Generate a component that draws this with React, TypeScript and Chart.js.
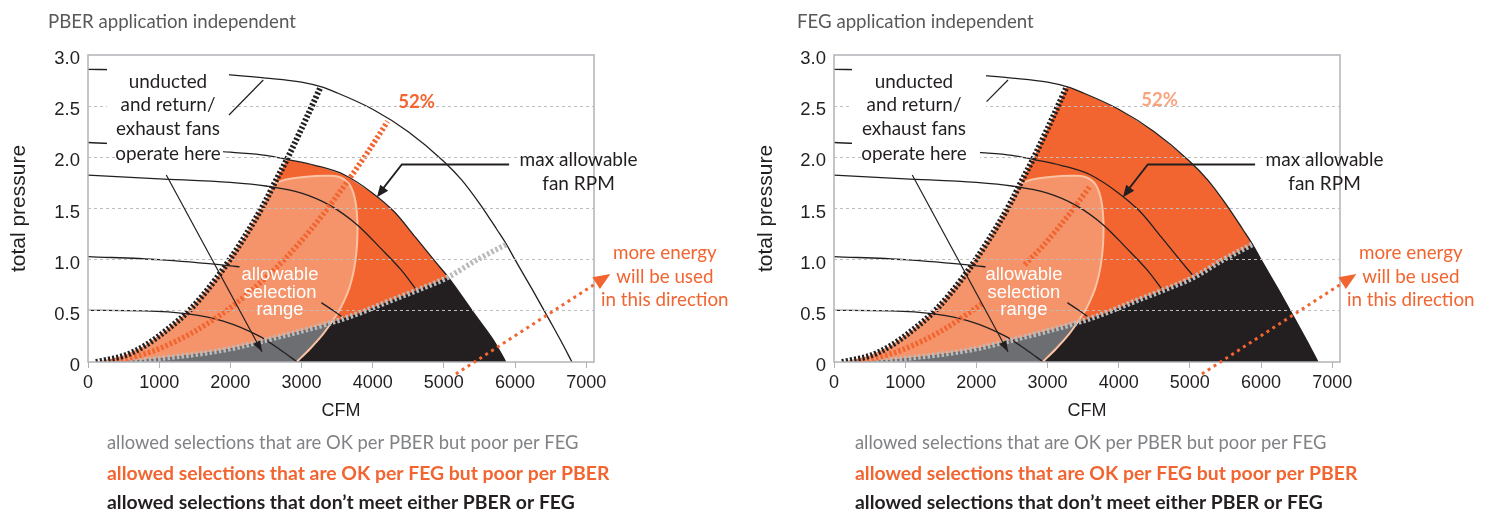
import React, { useEffect, useRef } from "react";
import { Chart, registerables } from "chart.js";

Chart.register(...registerables);

// ---------------- data ----------------
const X_TICKS = [0, 1000, 2000, 3000, 4000, 5000, 6000, 7000];
const Y_TICKS = [0, 0.5, 1, 1.5, 2, 2.5, 3];

// fan curves (CFM vs total pressure)
const FAN_A_CFM = [0, 500, 1000, 1500, 2000, 2500, 3000, 3270, 3500, 4000, 4500, 5000, 5250, 5500, 5750, 5880, 6000, 6250, 6500, 6650, 6800];
const FAN_A_P = [2.86, 2.855, 2.845, 2.83, 2.805, 2.775, 2.735, 2.69, 2.63, 2.47, 2.25, 1.96, 1.78, 1.55, 1.29, 1.15, 1.0, 0.7, 0.39, 0.2, 0];
const FAN_B_CFM = [0, 1000, 2000, 2500, 2795, 3200, 3600, 4000, 4300, 4600, 4880, 5060, 5450, 5700, 5870];
const FAN_B_P = [2.145, 2.11, 2.05, 2.02, 1.98, 1.92, 1.83, 1.65, 1.47, 1.22, 0.98, 0.83, 0.45, 0.21, 0];
const FAN_C_CFM = [0, 1000, 2000, 2500, 3000, 3400, 3800, 4100, 4400, 4620];
const FAN_C_P = [1.826, 1.79, 1.755, 1.72, 1.65, 1.53, 1.33, 1.12, 0.9, 0.7];
const FAN_D_CFM = [0, 1000, 2000, 2130, 2700, 3280, 3450, 3610];
const FAN_D_P: (number | null)[] = [1.03, 1.0, 0.94, 0.93, null, 0.58, 0.5, 0.42];
const FAN_E_CFM = [0, 800, 1400, 1900, 2400, 2700, 2940];
const FAN_E_P = [0.505, 0.5, 0.47, 0.4, 0.255, 0.12, 0];

// boundary lines
const SURGE_CFM = [110, 262, 500, 800, 1100, 1431, 1806, 2180, 2500, 2615, 2795, 3000, 3270];
const SURGE_P = [0, 0.02, 0.06, 0.16, 0.31, 0.51, 0.82, 1.2, 1.58, 1.74, 1.98, 2.28, 2.69];
const PBER_CFM = [260, 700, 1000, 1400, 1760, 2100, 2420, 2930, 3420, 3820, 4250, 4620, 5060, 5470, 5880];
const PBER_P = [0, 0.015, 0.035, 0.065, 0.1, 0.145, 0.2, 0.29, 0.385, 0.48, 0.6, 0.7, 0.83, 1.0, 1.15];
const PEAK_CFM = [330, 700, 1000, 1500, 2000, 2300, 2600, 2930, 3300, 3630, 3930, 4210];
const PEAK_P = [0, 0.06, 0.13, 0.3, 0.53, 0.7, 0.89, 1.13, 1.44, 1.75, 2.05, 2.35];
const PEAK_FEG_CFM = [330, 700, 1000, 1500, 2000, 2100, 2400, 2680, 2930, 3300, 3590];
const PEAK_FEG_P: (number | null)[] = [0, 0.06, 0.13, 0.3, 0.53, 0.58, null, 0.95, 1.13, 1.44, 1.71];
// allowable selection range outline
const SEL_CFM = [2615, 2700, 2800, 3000, 3200, 3400, 3520, 3610, 3680, 3730, 3765, 3782, 3787, 3780, 3760, 3725, 3670, 3600, 3520, 3420, 3300, 3120, 2930];
const SEL_P = [1.74, 1.765, 1.785, 1.805, 1.818, 1.82, 1.81, 1.78, 1.73, 1.65, 1.54, 1.42, 1.3, 1.15, 1.0, 0.86, 0.72, 0.6, 0.49, 0.385, 0.27, 0.13, 0];

// texts
const NOTE_TEXT = ["unducted", "and return/", "exhaust fans", "operate here"];
const RPM_TEXT = ["max allowable", "fan RPM"];
const ENERGY_TEXT = ["more energy", "will be used", "in this direction"];
const SEL_TEXT = ["allowable", "selection", "range"];
const PEAK_TEXT = "52%";
const LEGEND_TEXT = [
  "allowed selections that are OK per PBER but poor per FEG",
  "allowed selections that are OK per FEG but poor per PBER",
  "allowed selections that don\u2019t meet either PBER or FEG",
];

// ---------------- styles ----------------
const ANNOT_FAMILY = 'Lato, "Open Sans", sans-serif';
const AXIS_FAMILY = '"Liberation Sans", Arial, Helvetica, sans-serif';
const INK = "#231F20";
const ORANGE = "#F26531";
const LIGHT_ORANGE = "#F5946A";
const SEL_EDGE = "#FBC2A3";
const GRAY_FILL = "#6D6E71";
const PBER_GRAY = "#B9BBBD";
const GRID_GRAY = "#BCBEC0";
const FRAME_GRAY = "#B1B3B6";
const LEGEND_GRAY = "#808285";
const TITLE_GRAY = "#58595B";

type Pt = { x: number; y: number | null };
const series = (cfm: number[], p: (number | null)[]): Pt[] => cfm.map((x, i) => ({ x, y: p[i] }));
const piece = (cfm: number[], p: (number | null)[], from: number, to: number): Pt[] => {
  const i = cfm.indexOf(from);
  const j = cfm.indexOf(to);
  const step = i <= j ? 1 : -1;
  const out: Pt[] = [];
  for (let k = i; k !== j + step; k += step) out.push({ x: cfm[k], y: p[k] });
  return out;
};

type Panel = {
  key: string;
  left: number;
  title: string;
  titleX: number;
  axisWidth: number;
  legendX: number;
  feg: boolean;
  box: number[];
  leader: number[];
  selX: number;
  peakPos: number[];
  peakColor: string;
};

const PANELS: Panel[] = [
  {
    key: "pber", left: 0, title: "PBER application independent", titleX: 48, axisWidth: 88, legendX: 107, feg: false,
    box: [267, 1981, 2.06, 2.94], leader: [1981, 2.414, 2463, 2.756], selX: 2698,
    peakPos: [4618, 2.544], peakColor: ORANGE,
  },
  {
    key: "feg", left: 747, title: "FEG application independent", titleX: 50, axisWidth: 87, legendX: 108, feg: true,
    box: [253, 2136, 2.06, 2.94], leader: [2144, 2.544, 2445, 2.756], selX: 2669,
    peakPos: [4575, 2.56], peakColor: "#F9A47E",
  },
];

const fillDs = (label: string, data: Pt[], color: string, order: number) => ({
  label, data, fill: "shape", backgroundColor: color, borderColor: "rgba(0,0,0,0)", borderWidth: 0,
  pointRadius: 0, tension: 0, order,
});
const lineDs = (label: string, data: Pt[], color: string, width: number, dash: number[], order: number) => ({
  label, data, fill: false, borderColor: color, backgroundColor: color, borderWidth: width, borderDash: dash,
  borderCapStyle: "butt", pointRadius: 0, cubicInterpolationMode: "monotone", spanGaps: false, order,
});

function buildDatasets(panel: Panel) {
  const dark = panel.feg
    ? [...piece(SURGE_CFM, SURGE_P, 110, 3270), ...piece(FAN_A_CFM, FAN_A_P, 3270, 6800)]
    : [...piece(SURGE_CFM, SURGE_P, 110, 2795), ...piece(FAN_B_CFM, FAN_B_P, 2795, 5870)];
  const light = [...piece(SURGE_CFM, SURGE_P, 110, 2615), ...piece(SEL_CFM, SEL_P, 2615, 2930)];
  const black = panel.feg
    ? [...piece(PBER_CFM, PBER_P, 260, 5880), ...piece(FAN_A_CFM, FAN_A_P, 5880, 6800)]
    : [...piece(PBER_CFM, PBER_P, 260, 5060), ...piece(FAN_B_CFM, FAN_B_P, 5060, 5870)];
  const gray = [...piece(PBER_CFM, PBER_P, 260, 3420), ...piece(SEL_CFM, SEL_P, 3420, 2930)];
  const peak = panel.feg ? series(PEAK_FEG_CFM, PEAK_FEG_P) : series(PEAK_CFM, PEAK_P);
  return [
    fillDs("dark", dark, ORANGE, 100),
    fillDs("light", light, LIGHT_ORANGE, 95),
    fillDs("black", black, INK, 90),
    fillDs("gray", gray, GRAY_FILL, 85),
    { ...lineDs("selEdge", series(SEL_CFM, SEL_P), SEL_EDGE, 2, [], 80), cubicInterpolationMode: "default", tension: 0.3 },
    lineDs("A", series(FAN_A_CFM, FAN_A_P), INK, 1.3, [], 70),
    lineDs("B", series(FAN_B_CFM, FAN_B_P), INK, 1.3, [], 70),
    lineDs("C", series(FAN_C_CFM, FAN_C_P), INK, 1.3, [], 70),
    lineDs("D", series(FAN_D_CFM, FAN_D_P), INK, 1.3, [], 70),
    lineDs("E", series(FAN_E_CFM, FAN_E_P), INK, 1.3, [], 70),
    lineDs("pber", series(PBER_CFM, PBER_P), PBER_GRAY, 5.5, [2.5, 2.2], 60),
    lineDs("peak", peak, ORANGE, 5.5, [2.5, 2.2], 50),
    lineDs("surge", series(SURGE_CFM, SURGE_P), INK, 6, [2.2, 2], 40),
  ];
}

const fitSize = (ctx: CanvasRenderingContext2D, text: string, width: number, weight: string, family: string) => {
  ctx.font = `${weight} 40px ${family}`;
  return (40 * width) / ctx.measureText(text).width;
};
const fnt = (size: number, weight: string, family: string) => `${weight} ${size.toFixed(2)}px ${family}`;

function arrowHead(ctx: CanvasRenderingContext2D, x0: number, y0: number, x1: number, y1: number, len: number, half: number) {
  const a = Math.atan2(y1 - y0, x1 - x0);
  const bx = x1 - len * Math.cos(a);
  const by = y1 - len * Math.sin(a);
  ctx.beginPath();
  ctx.moveTo(x1, y1);
  ctx.lineTo(bx + half * Math.sin(a), by - half * Math.cos(a));
  ctx.lineTo(bx - half * Math.sin(a), by + half * Math.cos(a));
  ctx.closePath();
  ctx.fill();
}

function makePlugin(panel: Panel) {
  return {
    id: "annot-" + panel.key,
    afterDatasetsDraw(chart: any) {
      const { ctx, chartArea: a } = chart;
      ctx.save();
      ctx.strokeStyle = FRAME_GRAY;
      ctx.lineWidth = 1.5;
      ctx.strokeRect(a.left, a.top, a.right - a.left, a.bottom - a.top);
      ctx.restore();
    },
    afterDraw(chart: any) {
      const ctx: CanvasRenderingContext2D = chart.ctx;
      const xs = chart.scales.x;
      const ys = chart.scales.y;
      const X = (v: number) => xs.getPixelForValue(v);
      const Y = (v: number) => ys.getPixelForValue(v);
      ctx.save();

      // white box behind the upper-left note
      ctx.fillStyle = "#ffffff";
      const [c0, c1, p0, p1] = panel.box;
      ctx.fillRect(X(c0), Y(p1), X(c1) - X(c0), Y(p0) - Y(p1));
      ctx.fillRect(X(c0) + 9, Y(2.12), X(c1) - X(c0) - 15, Y(1.92) - Y(2.12));

      // leader lines
      ctx.strokeStyle = INK;
      ctx.fillStyle = INK;
      ctx.lineWidth = 1.2;
      const [l0, l1, l2, l3] = panel.leader;
      ctx.beginPath();
      ctx.moveTo(X(l0), Y(l1));
      ctx.lineTo(X(l2), Y(l3));
      ctx.stroke();
      ctx.beginPath();
      ctx.moveTo(X(1100), Y(1.827));
      ctx.lineTo(X(2445), Y(0.1));
      ctx.stroke();
      arrowHead(ctx, X(1100), Y(1.827), X(2445), Y(0.1), 11, 4);
      // max RPM arrow
      ctx.lineWidth = 1.8;
      ctx.beginPath();
      ctx.moveTo(X(5917), Y(1.93));
      ctx.lineTo(X(4410), Y(1.93));
      ctx.lineTo(X(4090), Y(1.645));
      ctx.stroke();
      arrowHead(ctx, X(4410), Y(1.93), X(4060), Y(1.61), 12, 5);

      // orange dotted arrow
      ctx.strokeStyle = ORANGE;
      ctx.fillStyle = ORANGE;
      ctx.lineWidth = 3;
      ctx.setLineDash([3, 4]);
      ctx.beginPath();
      ctx.moveTo(X(5170), Y(-0.117));
      ctx.lineTo(X(7120), Y(0.76));
      ctx.stroke();
      ctx.setLineDash([]);
      arrowHead(ctx, X(5170), Y(-0.117), X(7340), Y(0.86), 17, 7);

      // texts
      ctx.textAlign = "center";
      ctx.textBaseline = "middle";
      const noteSize = fitSize(ctx, "exhaust fans", 104, "400", ANNOT_FAMILY);
      ctx.font = fnt(noteSize, "400", ANNOT_FAMILY);
      ctx.fillStyle = INK;
      const noteY = [2.739, 2.511, 2.274, 2.032];
      NOTE_TEXT.forEach((t, i) => ctx.fillText(t, X(1124), Y(noteY[i])));

      const rpmSize = fitSize(ctx, RPM_TEXT[0], 118, "400", ANNOT_FAMILY);
      ctx.font = fnt(rpmSize, "400", ANNOT_FAMILY);
      const rpmY = [1.974, 1.739];
      RPM_TEXT.forEach((t, i) => ctx.fillText(t, X(6893), Y(rpmY[i])));

      const enSize = fitSize(ctx, ENERGY_TEXT[2], 127.6, "400", ANNOT_FAMILY);
      ctx.font = fnt(enSize, "400", ANNOT_FAMILY);
      ctx.fillStyle = ORANGE;
      const enY = [1.062, 0.834, 0.606];
      ENERGY_TEXT.forEach((t, i) => ctx.fillText(t, X(8105), Y(enY[i])));

      const selSize = fitSize(ctx, SEL_TEXT[0], 77, "400", AXIS_FAMILY);
      ctx.font = fnt(selSize, "400", AXIS_FAMILY);
      ctx.fillStyle = "#ffffff";
      const selY = [0.85, 0.674, 0.508];
      SEL_TEXT.forEach((t, i) => ctx.fillText(t, X(panel.selX), Y(selY[i])));

      const pkSize = fitSize(ctx, PEAK_TEXT, 36.7, "700", ANNOT_FAMILY);
      ctx.font = fnt(pkSize, "700", ANNOT_FAMILY);
      ctx.fillStyle = panel.peakColor;
      ctx.fillText(PEAK_TEXT, X(panel.peakPos[0]), Y(panel.peakPos[1]));

      // title
      ctx.textAlign = "left";
      const tSize = fitSize(ctx, PANELS[0].title, 248, "400", ANNOT_FAMILY);
      ctx.font = fnt(tSize, "400", ANNOT_FAMILY);
      ctx.fillStyle = TITLE_GRAY;
      ctx.fillText(panel.title, panel.titleX, 21.7);

      // legend lines
      const regSize = fitSize(ctx, LEGEND_TEXT[0], 472, "400", ANNOT_FAMILY);
      const boldSize = fitSize(ctx, LEGEND_TEXT[1], 503, "700", ANNOT_FAMILY);
      ctx.font = fnt(regSize, "400", ANNOT_FAMILY);
      ctx.fillStyle = LEGEND_GRAY;
      ctx.fillText(LEGEND_TEXT[0], panel.legendX, 443);
      ctx.font = fnt(boldSize, "700", ANNOT_FAMILY);
      ctx.fillStyle = ORANGE;
      ctx.fillText(LEGEND_TEXT[1], panel.legendX, 474);
      ctx.fillStyle = INK;
      ctx.fillText(LEGEND_TEXT[2], panel.legendX, 502.7);

      ctx.restore();
    },
  };
}

function buildConfig(panel: Panel): any {
  return {
    type: "line",
    data: { datasets: buildDatasets(panel) },
    options: {
      animation: false,
      responsive: false,
      maintainAspectRatio: false,
      devicePixelRatio: 1,
      events: [],
      layout: { padding: { top: 55, right: 747 - panel.axisWidth - 506, left: 0, bottom: 0 } },
      plugins: { legend: { display: false }, tooltip: { enabled: false }, title: { display: false } },
      elements: { point: { radius: 0, hoverRadius: 0 } },
      scales: {
        x: {
          type: "linear",
          min: 0,
          max: 7110,
          afterBuildTicks: (s: any) => { s.ticks = X_TICKS.map((v) => ({ value: v })); },
          afterFit: (s: any) => { s.height = 151; },
          grid: { drawOnChartArea: false, drawTicks: true, tickLength: 6, color: FRAME_GRAY, lineWidth: 1 },
          border: { display: false },
          ticks: {
            font: { size: 18, family: AXIS_FAMILY },
            color: INK,
            padding: 4,
            maxRotation: 0,
            autoSkip: false,
            callback: (v: any) => String(v),
          },
          title: {
            display: true,
            text: "CFM",
            font: { size: 18, family: AXIS_FAMILY },
            color: INK,
            padding: { top: 0, bottom: 91.5 },
          },
        },
        y: {
          type: "linear",
          min: 0,
          max: 3,
          afterBuildTicks: (s: any) => { s.ticks = Y_TICKS.map((v) => ({ value: v })); },
          afterFit: (s: any) => { s.width = panel.axisWidth; },
          grid: {
            drawTicks: false,
            z: 1,
            lineWidth: 1,
            color: (c: any) => (c.tick && (c.tick.value === 0 || c.tick.value === 3) ? "rgba(0,0,0,0)" : GRID_GRAY),
          },
          border: { display: false, dash: [3, 3] },
          ticks: {
            font: { size: 18.5, family: AXIS_FAMILY },
            color: INK,
            padding: 8,
            labelOffset: 4,
            callback: (v: any) => (v === 0 ? "0" : Number(v).toFixed(1)),
          },
          title: {
            display: true,
            text: "total pressure",
            font: { size: 21, family: AXIS_FAMILY },
            color: INK,
            padding: { top: 7, bottom: 0 },
          },
        },
      },
    },
    plugins: [makePlugin(panel)],
  };
}

function ChartPanel({ panel }: { panel: Panel }) {
  const ref = useRef<HTMLCanvasElement>(null);
  useEffect(() => {
    const chart = new Chart(ref.current as HTMLCanvasElement, buildConfig(panel));
    return () => chart.destroy();
  }, [panel]);
  return (
    <canvas
      ref={ref}
      width={747}
      height={513}
      style={{ position: "absolute", left: panel.left, top: 0, width: 747, height: 513 }}
    />
  );
}

export default function App() {
  return (
    <div style={{ position: "absolute", left: 0, top: 0, width: 1494, height: 513, background: "#ffffff", overflow: "hidden" }}>
      {PANELS.map((p) => (
        <ChartPanel key={p.key} panel={p} />
      ))}
    </div>
  );
}
